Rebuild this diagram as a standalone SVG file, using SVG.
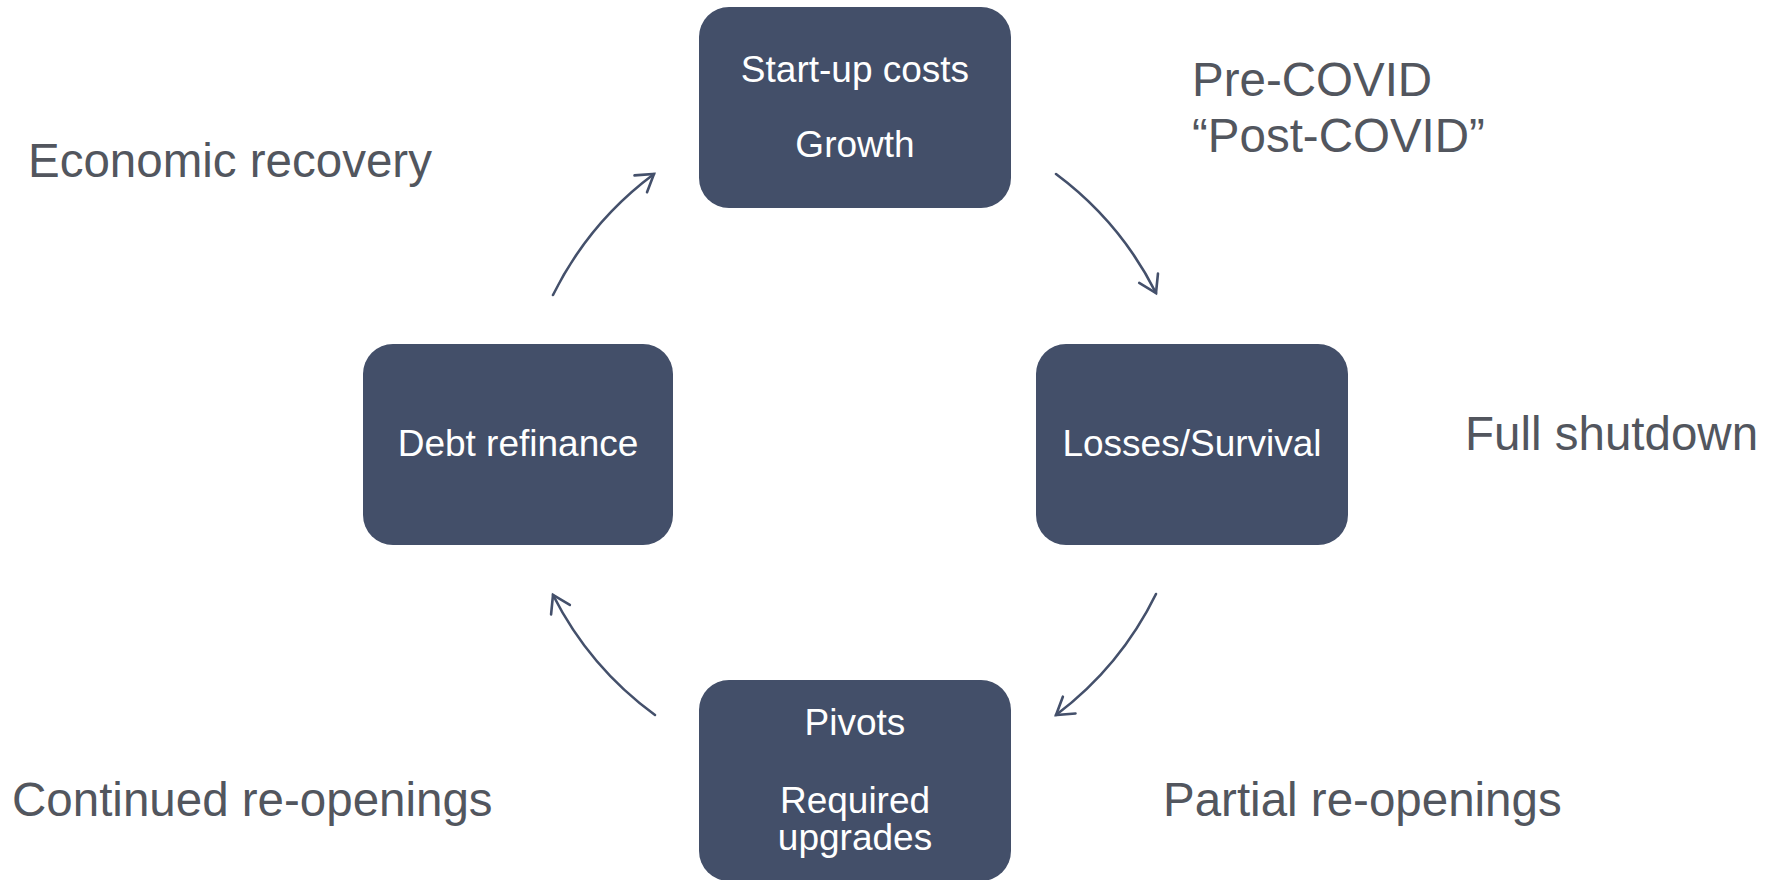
<svg xmlns="http://www.w3.org/2000/svg" width="1767" height="880" viewBox="0 0 1767 880">
<style>
.box{fill:#434f69;}
.bt{font-family:"Liberation Sans",Arial,sans-serif;font-size:37px;fill:#ffffff;text-anchor:middle;}
.lbl{font-family:"Liberation Sans",Arial,sans-serif;font-size:47.5px;fill:#52565e;}
.arc{fill:none;stroke:#44506b;stroke-width:2.6;stroke-linecap:round;marker-end:url(#ah);}
</style>
<defs>
<marker id="ah" markerUnits="userSpaceOnUse" markerWidth="40" markerHeight="40" refX="0" refY="0" viewBox="-25 -20 30 40" orient="auto" overflow="visible">
<path d="M-16.5 -10.5 L0 0 L-16.5 10.5" fill="none" stroke="#44506b" stroke-width="2.6" stroke-linecap="round" stroke-linejoin="miter"/>
</marker>
</defs>
<rect width="1767" height="880" fill="#ffffff"/>
<g id="connectors">
<path class="arc" d="M1056 174 A337 337 0 0 1 1156 293"/>
<path class="arc" d="M1156 594 A337 337 0 0 1 1056 715"/>
<path class="arc" d="M655 715 A337 337 0 0 1 553 595"/>
<path class="arc" d="M553 295 A337 337 0 0 1 654 174"/>
</g>
<g id="node-top">
<rect class="box" x="699" y="7" width="312" height="201" rx="30"/>
<text class="bt" x="855" y="82">Start-up costs</text>
<text class="bt" x="855" y="157">Growth</text>
</g>
<g id="node-right">
<rect class="box" x="1036" y="344" width="312" height="201" rx="30"/>
<text class="bt" x="1192" y="456">Losses/Survival</text>
</g>
<g id="node-bottom">
<rect class="box" x="699" y="680" width="312" height="201" rx="30"/>
<text class="bt" x="855" y="735">Pivots</text>
<text class="bt" x="855" y="813">Required</text>
<text class="bt" x="855" y="850">upgrades</text>
</g>
<g id="node-left">
<rect class="box" x="363" y="344" width="310" height="201" rx="30"/>
<text class="bt" x="518" y="456">Debt refinance</text>
</g>
<g id="labels">
<text class="lbl" x="1192" y="96">Pre-COVID</text>
<text class="lbl" x="1192" y="152">“Post-COVID”</text>
<text class="lbl" x="28" y="177">Economic recovery</text>
<text class="lbl" x="1465" y="450">Full shutdown</text>
<text class="lbl" x="12" y="816">Continued re-openings</text>
<text class="lbl" x="1163" y="816">Partial re-openings</text>
</g>
</svg>
